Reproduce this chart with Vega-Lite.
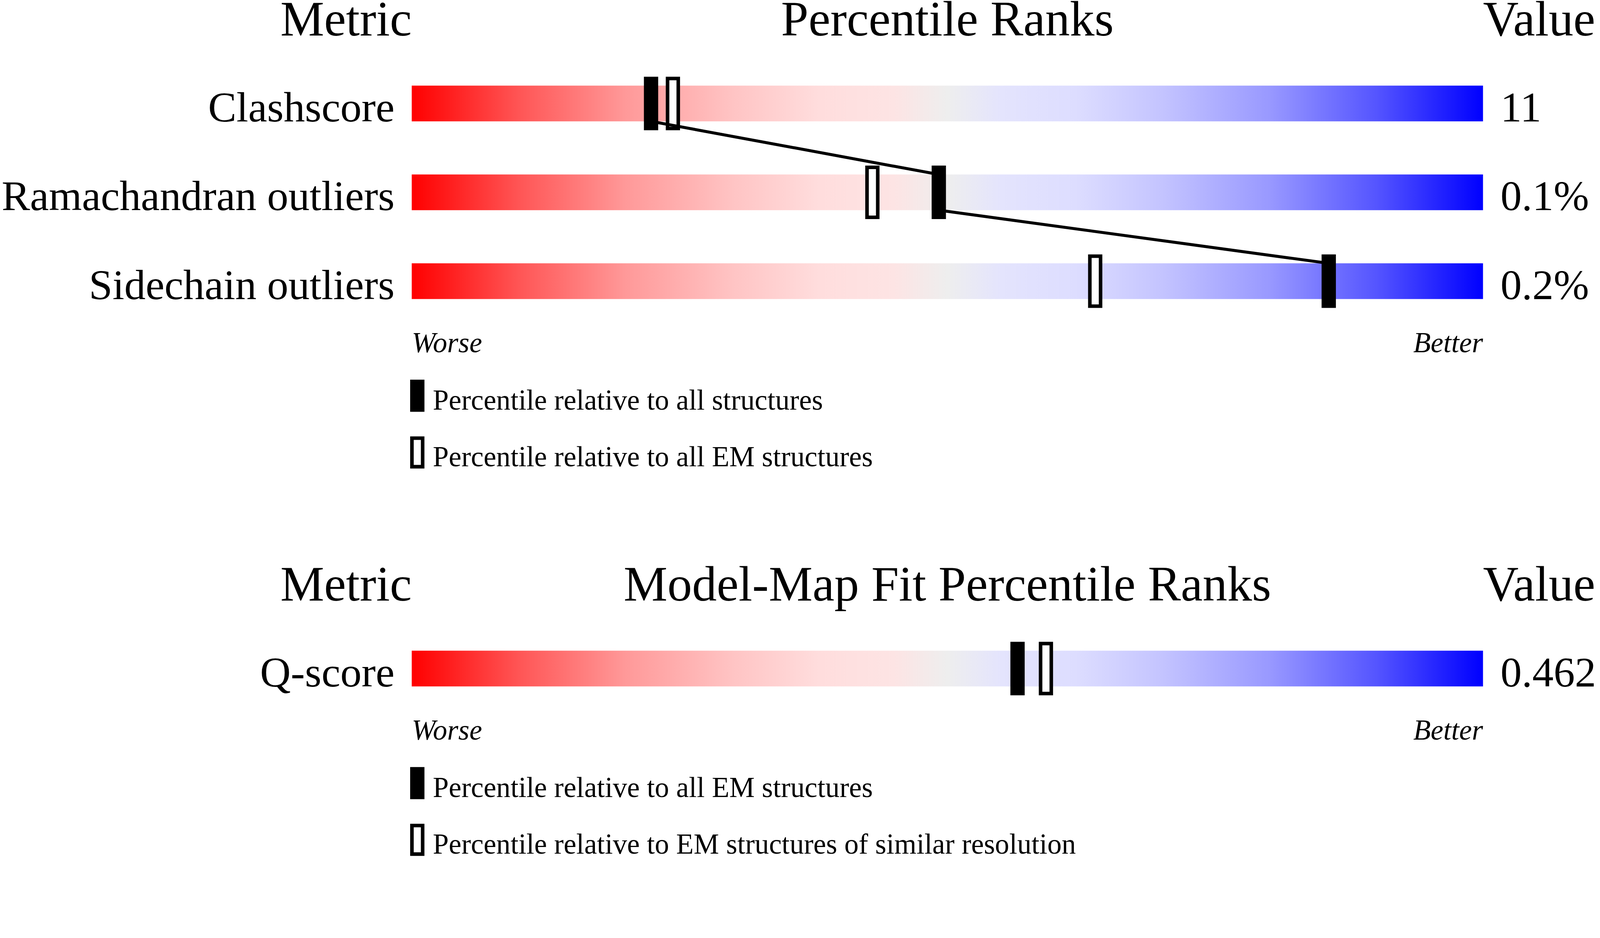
{
  "$schema": "https://vega.github.io/schema/vega-lite/v6.json",
  "width": 4100,
  "height": 2196,
  "autosize": {"type": "none"},
  "padding": 0,
  "background": "white",
  "config": {
    "view": {"stroke": null},
    "axis": {"disable": true},
    "text": {"font": "Liberation Serif", "color": "black"}
  },
  "datasets": {
    "validation": [
      {"metric": "Clashscore", "row": 1, "value": "11", "all": 22.34, "em": 24.38},
      {"metric": "Ramachandran outliers", "row": 2, "value": "0.1%", "all": 49.2, "em": 43.0},
      {"metric": "Sidechain outliers", "row": 3, "value": "0.2%", "all": 85.6, "em": 63.8}
    ],
    "fit": [
      {"metric": "Q-score", "row": 1, "value": "0.462", "all": 56.55, "em": 59.2}
    ]
  },
  "layer": [
    {
      "data": {"name": "validation"},
      "layer": [
        {
          "mark": {
            "type": "bar", "orient": "horizontal", "size": 91.4, "opacity": 1,
            "fill": {"gradient": "linear", "x1": 0, "y1": 0, "x2": 1, "y2": 0,
              "stops": [
                {"offset": 0, "color": "#ff0000"},
                {"offset": 0.1, "color": "#ff5555"},
                {"offset": 0.2, "color": "#ff9999"},
                {"offset": 0.3, "color": "#ffc4c4"},
                {"offset": 0.38, "color": "#ffdddd"},
                {"offset": 0.45, "color": "#fde4e4"},
                {"offset": 0.5, "color": "#eeeeee"},
                {"offset": 0.55, "color": "#e4e4fd"},
                {"offset": 0.62, "color": "#ddddff"},
                {"offset": 0.7, "color": "#c4c4ff"},
                {"offset": 0.8, "color": "#9999ff"},
                {"offset": 0.9, "color": "#5555ff"},
                {"offset": 1, "color": "#0000ff"}
              ]}
          },
          "encoding": {
            "x": {"datum": 0, "type": "quantitative", "scale": {"domain": [-38.4333, 111.0667], "nice": false, "zero": false}},
            "x2": {"datum": 100},
            "y": {"field": "row", "type": "quantitative", "scale": {"domain": [-0.1428, 9.4652], "reverse": true, "nice": false, "zero": false}}
          }
        },
        {
          "mark": {"type": "tick", "orient": "vertical", "thickness": 27.4, "size": 128, "fill": "white", "stroke": "black", "strokeWidth": 9.1, "opacity": 1},
          "encoding": {
            "x": {"field": "em", "type": "quantitative", "scale": {"domain": [-38.4333, 111.0667], "nice": false, "zero": false}},
            "y": {"field": "row", "type": "quantitative", "scale": {"domain": [-0.1428, 9.4652], "reverse": true, "nice": false, "zero": false}}
          }
        },
        {
          "transform": [
            {"window": [{"op": "lead", "field": "all", "as": "next_all"}, {"op": "lead", "field": "row", "as": "next_row"}], "sort": [{"field": "row"}]},
            {"filter": "datum.next_row != null"}
          ],
          "mark": {"type": "rule", "color": "black", "strokeWidth": 7.6, "yOffset": 45.7, "y2Offset": -45.7},
          "encoding": {
            "x": {"field": "all", "type": "quantitative", "scale": {"domain": [-38.4333, 111.0667], "nice": false, "zero": false}},
            "x2": {"field": "next_all"},
            "y": {"field": "row", "type": "quantitative", "scale": {"domain": [-0.1428, 9.4652], "reverse": true, "nice": false, "zero": false}},
            "y2": {"field": "next_row"}
          }
        },
        {
          "mark": {"type": "tick", "orient": "vertical", "thickness": 36.6, "size": 137, "color": "black", "opacity": 1},
          "encoding": {
            "x": {"field": "all", "type": "quantitative", "scale": {"domain": [-38.4333, 111.0667], "nice": false, "zero": false}},
            "y": {"field": "row", "type": "quantitative", "scale": {"domain": [-0.1428, 9.4652], "reverse": true, "nice": false, "zero": false}}
          }
        },
        {
          "mark": {"type": "text", "align": "right", "baseline": "alphabetic", "fontSize": 108.8, "dy": 45.7},
          "encoding": {
            "x": {"datum": -1.6, "type": "quantitative", "scale": {"domain": [-38.4333, 111.0667], "nice": false, "zero": false}},
            "y": {"field": "row", "type": "quantitative", "scale": {"domain": [-0.1428, 9.4652], "reverse": true, "nice": false, "zero": false}},
            "text": {"field": "metric"}
          }
        },
        {
          "mark": {"type": "text", "align": "left", "baseline": "alphabetic", "fontSize": 108.8, "dy": 45.7},
          "encoding": {
            "x": {"datum": 101.63, "type": "quantitative", "scale": {"domain": [-38.4333, 111.0667], "nice": false, "zero": false}},
            "y": {"field": "row", "type": "quantitative", "scale": {"domain": [-0.1428, 9.4652], "reverse": true, "nice": false, "zero": false}},
            "text": {"field": "value"}
          }
        },
        {
          "data": {"values": [{"label": "Metric"}]},
          "mark": {"type": "text", "align": "right", "baseline": "alphabetic", "fontSize": 126.2, "dy": 53.9},
          "encoding": {
            "x": {"datum": 0, "type": "quantitative", "scale": {"domain": [-38.4333, 111.0667], "nice": false, "zero": false}},
            "y": {"datum": 0, "type": "quantitative", "scale": {"domain": [-0.1428, 9.4652], "reverse": true, "nice": false, "zero": false}},
            "text": {"field": "label"}
          }
        },
        {
          "data": {"values": [{"label": "Percentile Ranks"}]},
          "mark": {"type": "text", "align": "center", "baseline": "alphabetic", "fontSize": 126.2, "dy": 53.9},
          "encoding": {
            "x": {"datum": 50, "type": "quantitative", "scale": {"domain": [-38.4333, 111.0667], "nice": false, "zero": false}},
            "y": {"datum": 0, "type": "quantitative", "scale": {"domain": [-0.1428, 9.4652], "reverse": true, "nice": false, "zero": false}},
            "text": {"field": "label"}
          }
        },
        {
          "data": {"values": [{"label": "Value"}]},
          "mark": {"type": "text", "align": "left", "baseline": "alphabetic", "fontSize": 126.2, "dy": 53.9},
          "encoding": {
            "x": {"datum": 100, "type": "quantitative", "scale": {"domain": [-38.4333, 111.0667], "nice": false, "zero": false}},
            "y": {"datum": 0, "type": "quantitative", "scale": {"domain": [-0.1428, 9.4652], "reverse": true, "nice": false, "zero": false}},
            "text": {"field": "label"}
          }
        },
        {
          "data": {"values": [{"label": "Worse"}]},
          "mark": {"type": "text", "align": "left", "baseline": "alphabetic", "fontSize": 73.1, "fontStyle": "italic", "dy": -45.7},
          "encoding": {
            "x": {"datum": 0, "type": "quantitative", "scale": {"domain": [-38.4333, 111.0667], "nice": false, "zero": false}},
            "y": {"datum": 4, "type": "quantitative", "scale": {"domain": [-0.1428, 9.4652], "reverse": true, "nice": false, "zero": false}},
            "text": {"field": "label"}
          }
        },
        {
          "data": {"values": [{"label": "Better"}]},
          "mark": {"type": "text", "align": "right", "baseline": "alphabetic", "fontSize": 73.1, "fontStyle": "italic", "dy": -45.7},
          "encoding": {
            "x": {"datum": 100, "type": "quantitative", "scale": {"domain": [-38.4333, 111.0667], "nice": false, "zero": false}},
            "y": {"datum": 4, "type": "quantitative", "scale": {"domain": [-0.1428, 9.4652], "reverse": true, "nice": false, "zero": false}},
            "text": {"field": "label"}
          }
        },
        {
          "data": {"values": [{"label": "all"}]},
          "mark": {"type": "tick", "orient": "vertical", "thickness": 36.6, "size": 82.3, "color": "black", "opacity": 1, "yOffset": 65.8},
          "encoding": {
            "x": {"datum": 0.52, "type": "quantitative", "scale": {"domain": [-38.4333, 111.0667], "nice": false, "zero": false}},
            "y": {"datum": 4, "type": "quantitative", "scale": {"domain": [-0.1428, 9.4652], "reverse": true, "nice": false, "zero": false}}
          }
        },
        {
          "data": {"values": [{"label": "em"}]},
          "mark": {"type": "tick", "orient": "vertical", "thickness": 27.4, "size": 73.1, "fill": "white", "stroke": "black", "strokeWidth": 9.1, "opacity": 1, "yOffset": -16.5},
          "encoding": {
            "x": {"datum": 0.52, "type": "quantitative", "scale": {"domain": [-38.4333, 111.0667], "nice": false, "zero": false}},
            "y": {"datum": 5, "type": "quantitative", "scale": {"domain": [-0.1428, 9.4652], "reverse": true, "nice": false, "zero": false}}
          }
        },
        {
          "data": {"values": [{"label": "Percentile relative to all structures"}]},
          "mark": {"type": "text", "align": "left", "baseline": "alphabetic", "fontSize": 73.1, "dy": 101.5},
          "encoding": {
            "x": {"datum": 1.97, "type": "quantitative", "scale": {"domain": [-38.4333, 111.0667], "nice": false, "zero": false}},
            "y": {"datum": 4, "type": "quantitative", "scale": {"domain": [-0.1428, 9.4652], "reverse": true, "nice": false, "zero": false}},
            "text": {"field": "label"}
          }
        },
        {
          "data": {"values": [{"label": "Percentile relative to all EM structures"}]},
          "mark": {"type": "text", "align": "left", "baseline": "alphabetic", "fontSize": 73.1, "dy": 19.2},
          "encoding": {
            "x": {"datum": 1.97, "type": "quantitative", "scale": {"domain": [-38.4333, 111.0667], "nice": false, "zero": false}},
            "y": {"datum": 5, "type": "quantitative", "scale": {"domain": [-0.1428, 9.4652], "reverse": true, "nice": false, "zero": false}},
            "text": {"field": "label"}
          }
        }
      ]
    },
    {
      "data": {"name": "fit"},
      "layer": [
        {
          "mark": {
            "type": "bar", "orient": "horizontal", "size": 91.4, "opacity": 1,
            "fill": {"gradient": "linear", "x1": 0, "y1": 0, "x2": 1, "y2": 0,
              "stops": [
                {"offset": 0, "color": "#ff0000"},
                {"offset": 0.1, "color": "#ff5555"},
                {"offset": 0.2, "color": "#ff9999"},
                {"offset": 0.3, "color": "#ffc4c4"},
                {"offset": 0.38, "color": "#ffdddd"},
                {"offset": 0.45, "color": "#fde4e4"},
                {"offset": 0.5, "color": "#eeeeee"},
                {"offset": 0.55, "color": "#e4e4fd"},
                {"offset": 0.62, "color": "#ddddff"},
                {"offset": 0.7, "color": "#c4c4ff"},
                {"offset": 0.8, "color": "#9999ff"},
                {"offset": 0.9, "color": "#5555ff"},
                {"offset": 1, "color": "#0000ff"}
              ]}
          },
          "encoding": {
            "x": {"datum": 0, "type": "quantitative", "scale": {"domain": [-38.4333, 111.0667], "nice": false, "zero": false}},
            "x2": {"datum": 100},
            "y": {"field": "row", "type": "quantitative", "scale": {"domain": [-6.5028, 3.1052], "reverse": true, "nice": false, "zero": false}}
          }
        },
        {
          "mark": {"type": "tick", "orient": "vertical", "thickness": 27.4, "size": 128, "fill": "white", "stroke": "black", "strokeWidth": 9.1, "opacity": 1},
          "encoding": {
            "x": {"field": "em", "type": "quantitative", "scale": {"domain": [-38.4333, 111.0667], "nice": false, "zero": false}},
            "y": {"field": "row", "type": "quantitative", "scale": {"domain": [-6.5028, 3.1052], "reverse": true, "nice": false, "zero": false}}
          }
        },
        {
          "mark": {"type": "tick", "orient": "vertical", "thickness": 36.6, "size": 137, "color": "black", "opacity": 1},
          "encoding": {
            "x": {"field": "all", "type": "quantitative", "scale": {"domain": [-38.4333, 111.0667], "nice": false, "zero": false}},
            "y": {"field": "row", "type": "quantitative", "scale": {"domain": [-6.5028, 3.1052], "reverse": true, "nice": false, "zero": false}}
          }
        },
        {
          "mark": {"type": "text", "align": "right", "baseline": "alphabetic", "fontSize": 108.8, "dy": 45.7},
          "encoding": {
            "x": {"datum": -1.6, "type": "quantitative", "scale": {"domain": [-38.4333, 111.0667], "nice": false, "zero": false}},
            "y": {"field": "row", "type": "quantitative", "scale": {"domain": [-6.5028, 3.1052], "reverse": true, "nice": false, "zero": false}},
            "text": {"field": "metric"}
          }
        },
        {
          "mark": {"type": "text", "align": "left", "baseline": "alphabetic", "fontSize": 108.8, "dy": 45.7},
          "encoding": {
            "x": {"datum": 101.63, "type": "quantitative", "scale": {"domain": [-38.4333, 111.0667], "nice": false, "zero": false}},
            "y": {"field": "row", "type": "quantitative", "scale": {"domain": [-6.5028, 3.1052], "reverse": true, "nice": false, "zero": false}},
            "text": {"field": "value"}
          }
        },
        {
          "data": {"values": [{"label": "Metric"}]},
          "mark": {"type": "text", "align": "right", "baseline": "alphabetic", "fontSize": 126.2, "dy": 53.9},
          "encoding": {
            "x": {"datum": 0, "type": "quantitative", "scale": {"domain": [-38.4333, 111.0667], "nice": false, "zero": false}},
            "y": {"datum": 0, "type": "quantitative", "scale": {"domain": [-6.5028, 3.1052], "reverse": true, "nice": false, "zero": false}},
            "text": {"field": "label"}
          }
        },
        {
          "data": {"values": [{"label": "Model-Map Fit Percentile Ranks"}]},
          "mark": {"type": "text", "align": "center", "baseline": "alphabetic", "fontSize": 126.2, "dy": 53.9},
          "encoding": {
            "x": {"datum": 50, "type": "quantitative", "scale": {"domain": [-38.4333, 111.0667], "nice": false, "zero": false}},
            "y": {"datum": 0, "type": "quantitative", "scale": {"domain": [-6.5028, 3.1052], "reverse": true, "nice": false, "zero": false}},
            "text": {"field": "label"}
          }
        },
        {
          "data": {"values": [{"label": "Value"}]},
          "mark": {"type": "text", "align": "left", "baseline": "alphabetic", "fontSize": 126.2, "dy": 53.9},
          "encoding": {
            "x": {"datum": 100, "type": "quantitative", "scale": {"domain": [-38.4333, 111.0667], "nice": false, "zero": false}},
            "y": {"datum": 0, "type": "quantitative", "scale": {"domain": [-6.5028, 3.1052], "reverse": true, "nice": false, "zero": false}},
            "text": {"field": "label"}
          }
        },
        {
          "data": {"values": [{"label": "Worse"}]},
          "mark": {"type": "text", "align": "left", "baseline": "alphabetic", "fontSize": 73.1, "fontStyle": "italic", "dy": -45.7},
          "encoding": {
            "x": {"datum": 0, "type": "quantitative", "scale": {"domain": [-38.4333, 111.0667], "nice": false, "zero": false}},
            "y": {"datum": 2, "type": "quantitative", "scale": {"domain": [-6.5028, 3.1052], "reverse": true, "nice": false, "zero": false}},
            "text": {"field": "label"}
          }
        },
        {
          "data": {"values": [{"label": "Better"}]},
          "mark": {"type": "text", "align": "right", "baseline": "alphabetic", "fontSize": 73.1, "fontStyle": "italic", "dy": -45.7},
          "encoding": {
            "x": {"datum": 100, "type": "quantitative", "scale": {"domain": [-38.4333, 111.0667], "nice": false, "zero": false}},
            "y": {"datum": 2, "type": "quantitative", "scale": {"domain": [-6.5028, 3.1052], "reverse": true, "nice": false, "zero": false}},
            "text": {"field": "label"}
          }
        },
        {
          "data": {"values": [{"label": "all"}]},
          "mark": {"type": "tick", "orient": "vertical", "thickness": 36.6, "size": 82.3, "color": "black", "opacity": 1, "yOffset": 65.8},
          "encoding": {
            "x": {"datum": 0.52, "type": "quantitative", "scale": {"domain": [-38.4333, 111.0667], "nice": false, "zero": false}},
            "y": {"datum": 2, "type": "quantitative", "scale": {"domain": [-6.5028, 3.1052], "reverse": true, "nice": false, "zero": false}}
          }
        },
        {
          "data": {"values": [{"label": "res"}]},
          "mark": {"type": "tick", "orient": "vertical", "thickness": 27.4, "size": 73.1, "fill": "white", "stroke": "black", "strokeWidth": 9.1, "opacity": 1, "yOffset": -16.5},
          "encoding": {
            "x": {"datum": 0.52, "type": "quantitative", "scale": {"domain": [-38.4333, 111.0667], "nice": false, "zero": false}},
            "y": {"datum": 3, "type": "quantitative", "scale": {"domain": [-6.5028, 3.1052], "reverse": true, "nice": false, "zero": false}}
          }
        },
        {
          "data": {"values": [{"label": "Percentile relative to all EM structures"}]},
          "mark": {"type": "text", "align": "left", "baseline": "alphabetic", "fontSize": 73.1, "dy": 101.5},
          "encoding": {
            "x": {"datum": 1.97, "type": "quantitative", "scale": {"domain": [-38.4333, 111.0667], "nice": false, "zero": false}},
            "y": {"datum": 2, "type": "quantitative", "scale": {"domain": [-6.5028, 3.1052], "reverse": true, "nice": false, "zero": false}},
            "text": {"field": "label"}
          }
        },
        {
          "data": {"values": [{"label": "Percentile relative to EM structures of similar resolution"}]},
          "mark": {"type": "text", "align": "left", "baseline": "alphabetic", "fontSize": 73.1, "dy": 19.2},
          "encoding": {
            "x": {"datum": 1.97, "type": "quantitative", "scale": {"domain": [-38.4333, 111.0667], "nice": false, "zero": false}},
            "y": {"datum": 3, "type": "quantitative", "scale": {"domain": [-6.5028, 3.1052], "reverse": true, "nice": false, "zero": false}},
            "text": {"field": "label"}
          }
        }
      ]
    }
  ],
  "resolve": {"scale": {"y": "independent"}}
}
